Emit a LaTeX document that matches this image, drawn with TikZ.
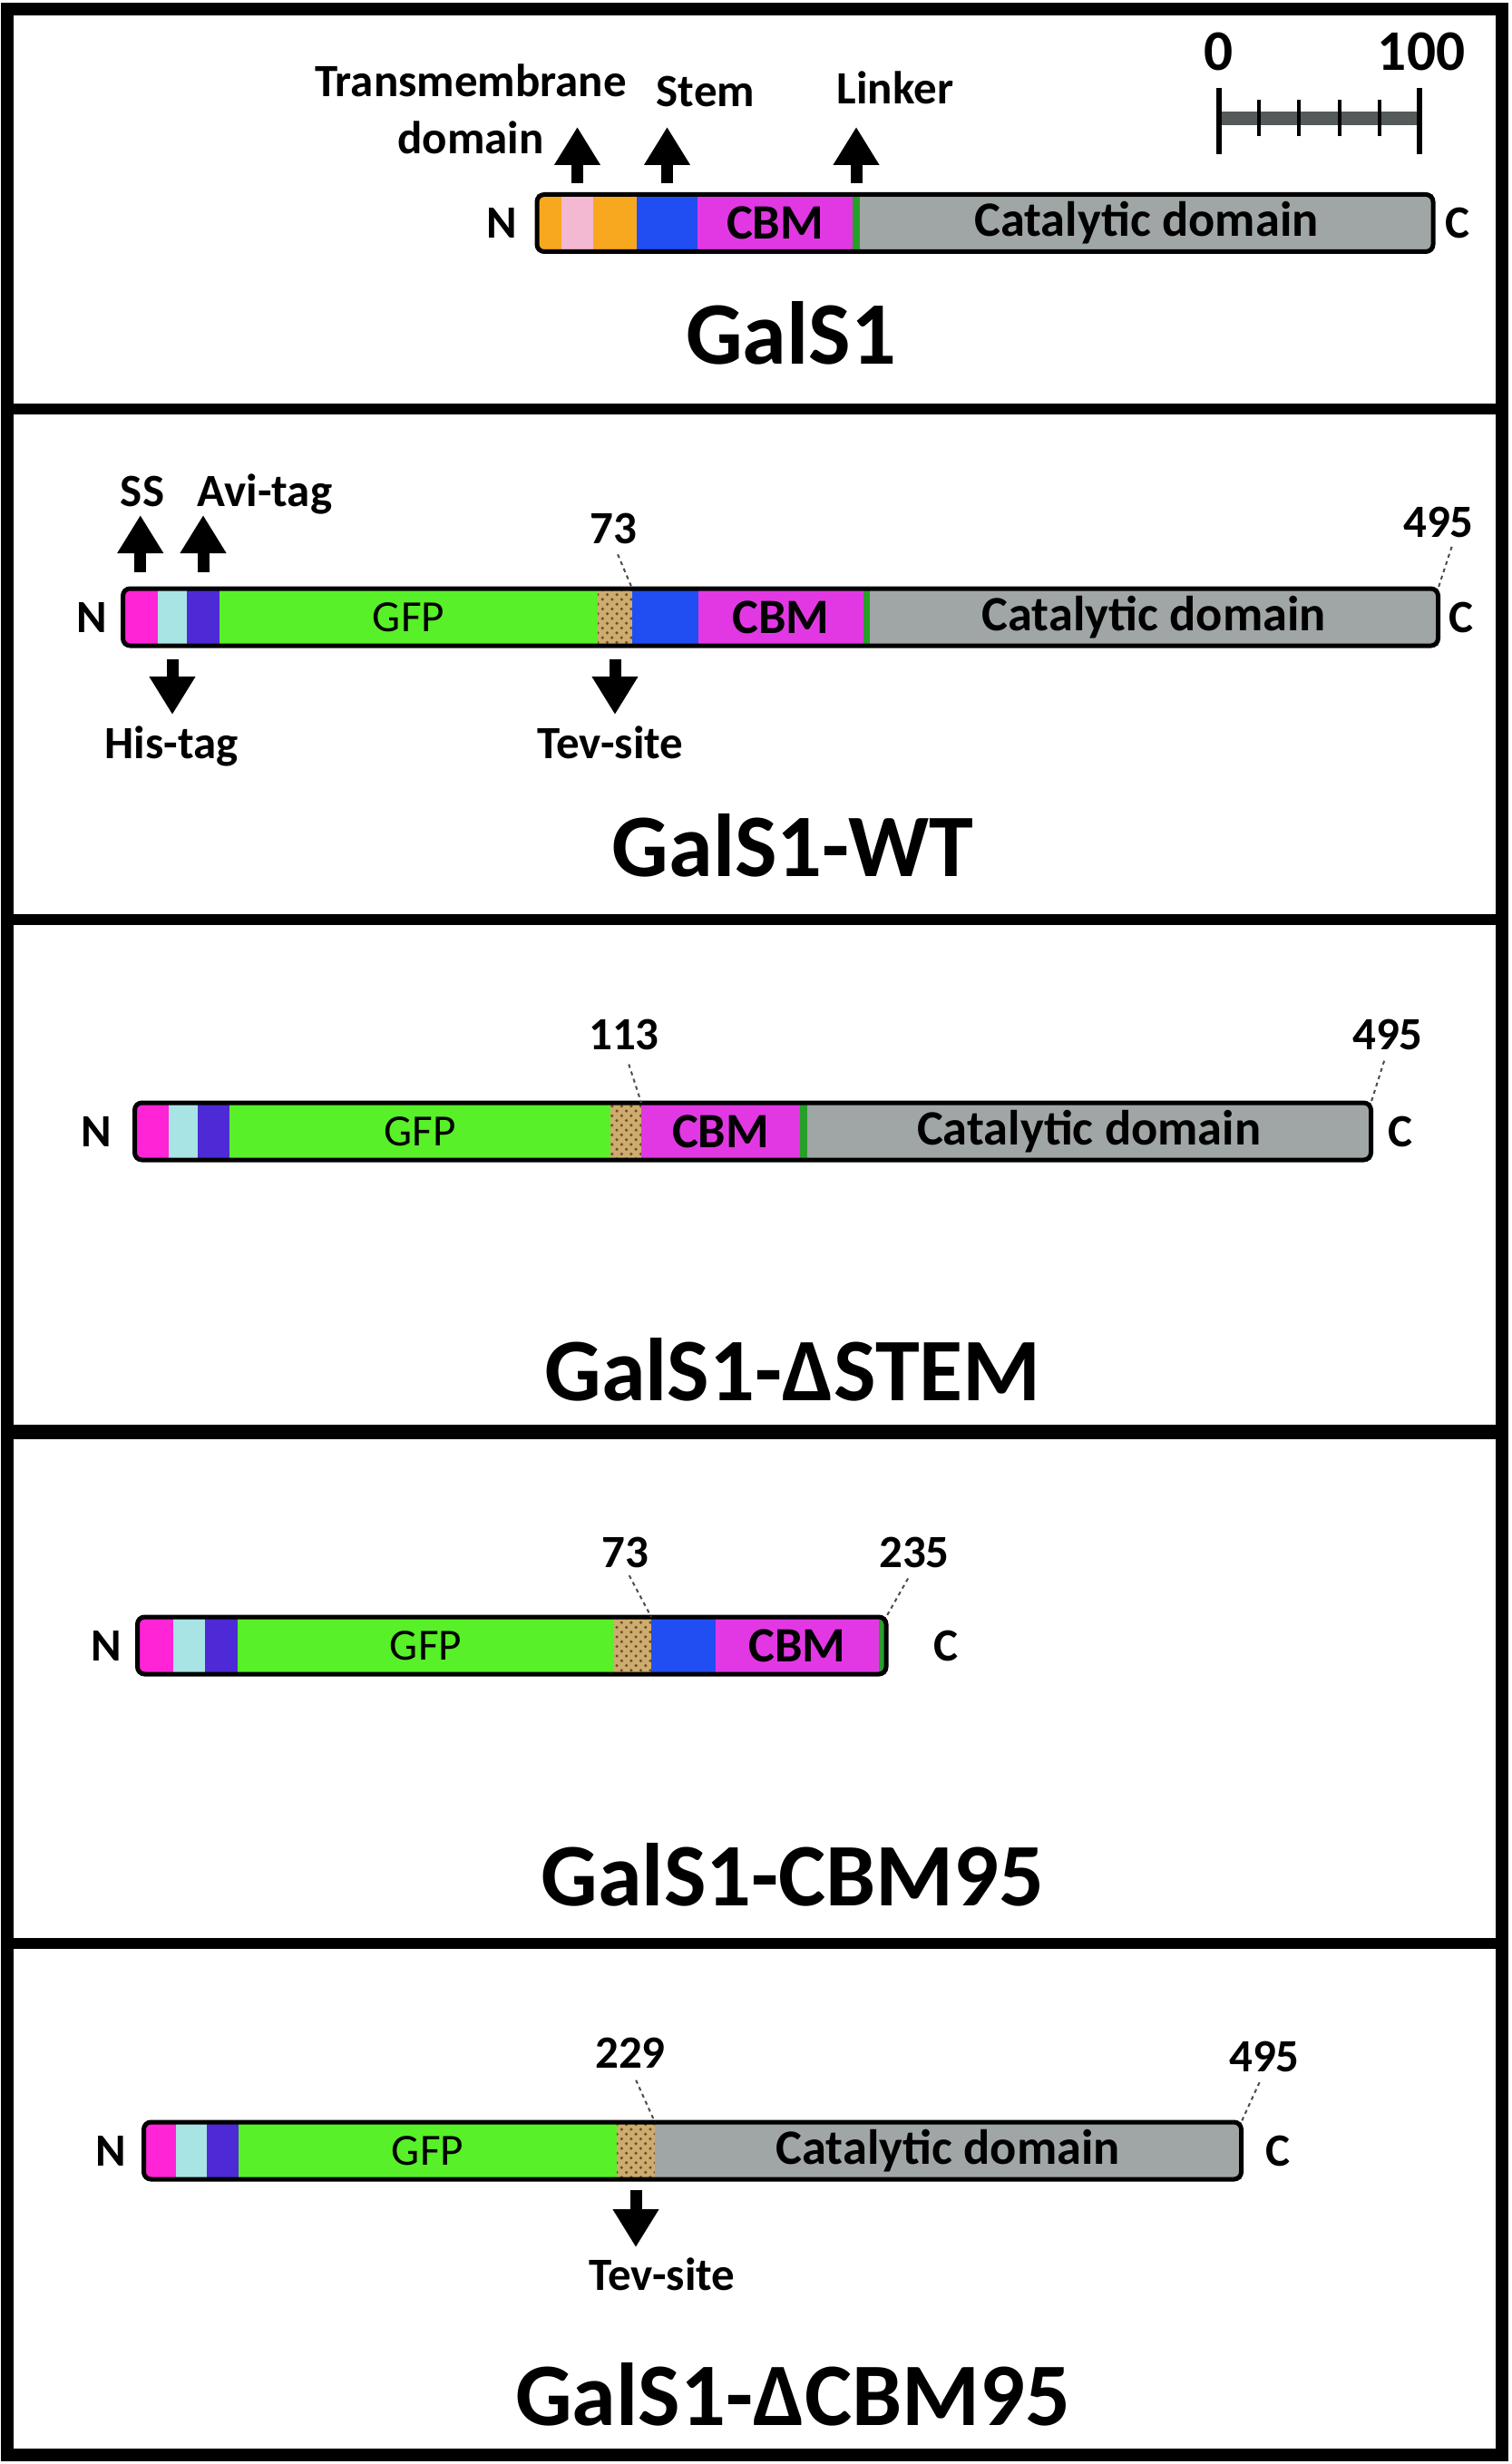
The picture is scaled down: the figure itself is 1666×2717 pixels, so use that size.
\documentclass[tikz,border=0pt]{standalone}
\usepackage{fontspec}
\setmainfont{Carlito}
\usepackage{tikz}
\usetikzlibrary{arrows.meta,positioning,patterns}

\definecolor{tmorange}{RGB}{247,168,30}
\definecolor{tmpink}{RGB}{243,184,210}
\definecolor{stemblue}{RGB}{33,78,243}
\definecolor{cbmpink}{RGB}{226,56,228}
\definecolor{ssmagenta}{RGB}{255,36,214}
\definecolor{hiscyan}{RGB}{168,228,228}
\definecolor{avipurple}{RGB}{78,42,214}
\definecolor{gfpgreen}{RGB}{88,240,40}
\definecolor{tevtan}{RGB}{205,172,112}
\definecolor{catgray}{RGB}{160,166,166}
\definecolor{linkgreen}{RGB}{38,160,40}
\definecolor{scalegray}{RGB}{84,90,90}

\newcommand\lblfont{\fontsize{14.5}{18}\selectfont\bfseries}
\newcommand\segfont{\fontsize{15.5}{18}\selectfont\bfseries}
\newcommand\gfpfont{\fontsize{14}{17}\selectfont}
\newcommand\titlefont{\fontsize{28}{32}\selectfont\bfseries}
\newcommand\barfont{\fontsize{18}{20}\selectfont\bfseries}

\begin{document}
\begin{tikzpicture}[x=0.1mm,y=-0.1mm,
    seg/.style={rectangle,inner sep=0pt,outer sep=0pt,minimum height=6.3mm,anchor=west,font=\segfont},
    tev/.style={seg,fill=tevtan,postaction={pattern=crosshatch dots,pattern color=brown!60!black}},
    outline/.style={draw,line width=0.5mm,rounded corners=0.8mm},
    lbl/.style={inner sep=0pt,outer sep=0pt,font=\lblfont},
    title/.style={inner sep=0pt,font=\titlefont},
    blockarr/.style={line width=1.3mm,-{Triangle[length=4.2mm,width=4.8mm]}},
    lead/.style={line width=0.2mm,black!70,dash pattern=on 1.2pt off 1.2pt}]
  \useasboundingbox (0,0) rectangle (1666,2717);
  \fill[white] (0,0) rectangle (1666,2717);
  \draw[line width=1.4mm] (8,10) rectangle (1656,2707);
  \draw[line width=1.2mm] (8,451) -- (1656,451) (8,1014) -- (1656,1014) (8,2143) -- (1656,2143);
  \draw[line width=1.6mm] (8,1579) -- (1656,1579);

  \node[seg,fill=tmorange,minimum width=2.7mm] (g1-tm1) at (592,246) {};
  \node[seg,fill=tmpink,minimum width=3.5mm,right=0pt of g1-tm1] (g1-tmp) {};
  \node[seg,fill=tmorange,minimum width=4.8mm,right=0pt of g1-tmp] (g1-tm2) {};
  \node[seg,fill=stemblue,minimum width=6.7mm,right=0pt of g1-tm2] (g1-stem) {};
  \node[seg,fill=cbmpink,minimum width=17.1mm,right=0pt of g1-stem] (g1-cbm) {CBM};
  \node[seg,fill=linkgreen,minimum width=0.8mm,right=0pt of g1-cbm] (g1-lnk) {};
  \node[seg,fill=catgray,minimum width=63.2mm,right=0pt of g1-lnk] (g1-cat) {Catalytic domain};
  \draw[outline] (g1-tm1.north west) rectangle (g1-cat.south east);
  \node[lbl,left=2.2mm of g1-tm1] (g1-n) {N};
  \node[lbl,right=1.35mm of g1-cat] (g1-c) {C};
  \node[lbl,align=center] (g1-tmlab) at (519,120) {Transmembrane\\domain};
  \node[lbl,anchor=base] (g1-stemlab) at (778,118) {Stem};
  \node[lbl,anchor=base] (g1-lnklab) at (987,115) {Linker};
  \coordinate (g1-tmtip) at (g1-tmp.north |- 0,140);
  \coordinate (g1-stemtip) at (g1-stem.north |- 0,140);
  \coordinate (g1-lnktip) at (g1-lnk.north |- 0,140);
  \path[blockarr,shorten <=1.25mm]
    (g1-tmp.north) edge (g1-tmtip)
    (g1-stem.north) edge (g1-stemtip)
    (g1-lnk.north) edge (g1-lnktip);
  \fill[scalegray] (1344,123) rectangle (1565,138);
  \foreach \k in {1,...,4}
    \draw[line width=0.4mm] (1344+44.2*\k,110) -- (1344+44.2*\k,150);
  \draw[line width=0.65mm] (1344,97) -- (1344,170) (1565,97) -- (1565,170);
  \node[lbl,font=\barfont,anchor=base] (sb-0) at (1344,78) {0};
  \node[lbl,font=\barfont,anchor=base] (sb-100) at (1567,78) {100};
  \node[title] (g1-title) at (872,367) {GalS1};

  \node[seg,fill=ssmagenta,minimum width=3.85mm] (wt-ss) at (135.5,680.5) {};
  \node[seg,fill=hiscyan,minimum width=3.2mm,right=0pt of wt-ss] (wt-his) {};
  \node[seg,fill=avipurple,minimum width=3.6mm,right=0pt of wt-his] (wt-avi) {};
  \node[seg,fill=gfpgreen,font=\gfpfont,minimum width=41.7mm,right=0pt of wt-avi] (wt-gfp) {GFP};
  \node[tev,minimum width=3.8mm,right=0pt of wt-gfp] (wt-tev) {};
  \node[seg,fill=stemblue,minimum width=7.3mm,right=0pt of wt-tev] (wt-stem) {};
  \node[seg,fill=cbmpink,minimum width=18.2mm,right=0pt of wt-stem] (wt-cbm) {CBM};
  \node[seg,fill=linkgreen,minimum width=0.7mm,right=0pt of wt-cbm] (wt-lnk) {};
  \node[seg,fill=catgray,minimum width=62.65mm,right=0pt of wt-lnk] (wt-cat) {Catalytic domain};
  \draw[outline] (wt-ss.north west) rectangle (wt-cat.south east);
  \node[lbl,left=1.75mm of wt-ss] (wt-n) {N};
  \node[lbl,right=1.15mm of wt-cat] (wt-c) {C};
  \node[lbl,anchor=base] (wt-sslab) at (157,558) {SS};
  \node[lbl,anchor=base] (wt-avilab) at (292,558) {Avi-tag};
  \node[lbl,anchor=base] (wt-hislab) at (189,836) {His-tag};
  \node[lbl,anchor=base] (wt-tevlab) at (673,836) {Tev-site};
  \coordinate (wt-sstip) at (wt-ss.north |- 0,568);
  \coordinate (wt-avitip) at (wt-avi.north |- 0,568);
  \coordinate (wt-histip) at (wt-his.south |- 0,788);
  \coordinate (wt-tevtip) at (wt-tev.south |- 0,788);
  \path[blockarr,shorten <=1.8mm]
    (wt-ss.north) edge (wt-sstip)
    (wt-avi.north) edge (wt-avitip);
  \path[blockarr,shorten <=1.5mm]
    (wt-his.south) edge (wt-histip)
    (wt-tev.south) edge (wt-tevtip);
  \node[lbl,anchor=base] (wt-n73) at (676,599) {73};
  \node[lbl,anchor=base] (wt-n495) at (1586,592) {495};
  \path[lead]
    (wt-n73.south) edge[shorten <=1.3mm] (wt-tev.north east)
    ([xshift=1.8mm]wt-n495.south) edge[shorten <=1.1mm] (wt-cat.north east);
  \node[title] (wt-title) at (874,932) {GalS1-WT};

  \node[seg,fill=ssmagenta,minimum width=3.75mm] (st-ss) at (148.5,1247.5) {};
  \node[seg,fill=hiscyan,minimum width=3.2mm,right=0pt of st-ss] (st-his) {};
  \node[seg,fill=avipurple,minimum width=3.5mm,right=0pt of st-his] (st-avi) {};
  \node[seg,fill=gfpgreen,font=\gfpfont,minimum width=42mm,right=0pt of st-avi] (st-gfp) {GFP};
  \node[tev,minimum width=3.4mm,right=0pt of st-gfp] (st-tev) {};
  \node[seg,fill=cbmpink,minimum width=17.5mm,right=0pt of st-tev] (st-cbm) {CBM};
  \node[seg,fill=linkgreen,minimum width=0.8mm,right=0pt of st-cbm] (st-lnk) {};
  \node[seg,fill=catgray,minimum width=62.15mm,right=0pt of st-lnk] (st-cat) {Catalytic domain};
  \draw[outline] (st-ss.north west) rectangle (st-cat.south east);
  \node[lbl,left=2.55mm of st-ss] (st-n) {N};
  \node[lbl,right=1.85mm of st-cat] (st-c) {C};
  \node[lbl,anchor=base] (st-n113) at (688,1157) {113};
  \node[lbl,anchor=base] (st-n495) at (1530,1157) {495};
  \path[lead]
    (st-n113.south) edge[shorten <=1.7mm] (st-tev.north east)
    (st-n495.south) edge[shorten <=1.3mm] (st-cat.north east);
  \node[title] (st-title) at (874,1510) {GalS1-ΔSTEM};

  \node[seg,fill=ssmagenta,minimum width=3.95mm] (cb-ss) at (151.5,1814.5) {};
  \node[seg,fill=hiscyan,minimum width=3.5mm,right=0pt of cb-ss] (cb-his) {};
  \node[seg,fill=avipurple,minimum width=3.6mm,right=0pt of cb-his] (cb-avi) {};
  \node[seg,fill=gfpgreen,font=\gfpfont,minimum width=41.5mm,right=0pt of cb-avi] (cb-gfp) {GFP};
  \node[tev,minimum width=4.1mm,right=0pt of cb-gfp] (cb-tev) {};
  \node[seg,fill=stemblue,minimum width=7.1mm,right=0pt of cb-tev] (cb-stem) {};
  \node[seg,fill=cbmpink,minimum width=18mm,right=0pt of cb-stem] (cb-cbm) {CBM};
  \node[seg,fill=linkgreen,minimum width=0.8mm,right=0pt of cb-cbm] (cb-lnk) {};
  \draw[outline] (cb-ss.north west) rectangle (cb-lnk.south east);
  \node[lbl,left=1.75mm of cb-ss] (cb-n) {N};
  \node[lbl,right=5.25mm of cb-lnk] (cb-c) {C};
  \node[lbl,anchor=base] (cb-n73) at (689,1728) {73};
  \node[lbl,anchor=base] (cb-n235) at (1008,1728) {235};
  \path[lead]
    (cb-n73.south) edge[shorten <=1mm] (cb-tev.north east)
    (cb-n235.south) edge[shorten <=1.4mm] (cb-lnk.north east);
  \node[title] (cb-title) at (874,2067) {GalS1-CBM95};

  \node[seg,fill=ssmagenta,minimum width=3.55mm] (dc-ss) at (158.5,2371.5) {};
  \node[seg,fill=hiscyan,minimum width=3.4mm,right=0pt of dc-ss] (dc-his) {};
  \node[seg,fill=avipurple,minimum width=3.5mm,right=0pt of dc-his] (dc-avi) {};
  \node[seg,fill=gfpgreen,font=\gfpfont,minimum width=41.7mm,right=0pt of dc-avi] (dc-gfp) {GFP};
  \node[tev,minimum width=4.2mm,right=0pt of dc-gfp] (dc-tev) {};
  \node[seg,fill=catgray,minimum width=64.65mm,right=0pt of dc-tev] (dc-cat) {Catalytic domain};
  \draw[outline] (dc-ss.north west) rectangle (dc-cat.south east);
  \node[lbl,left=1.95mm of dc-ss] (dc-n) {N};
  \node[lbl,right=2.65mm of dc-cat] (dc-c) {C};
  \node[lbl,anchor=base] (dc-tevlab) at (730,2525) {Tev-site};
  \coordinate (dc-tevtip) at (dc-tev.south |- 0,2478);
  \path[blockarr,shorten <=1.2mm] (dc-tev.south) edge (dc-tevtip);
  \node[lbl,anchor=base] (dc-n229) at (695,2280) {229};
  \node[lbl,anchor=base] (dc-n495) at (1394,2284) {495};
  \path[lead]
    (dc-n229.south) edge[shorten <=1.5mm] (dc-tev.north east)
    (dc-n495.south) edge[shorten <=1.3mm] (dc-cat.north east);
  \node[title] (dc-title) at (874,2640) {GalS1-ΔCBM95};
\end{tikzpicture}
\end{document}
